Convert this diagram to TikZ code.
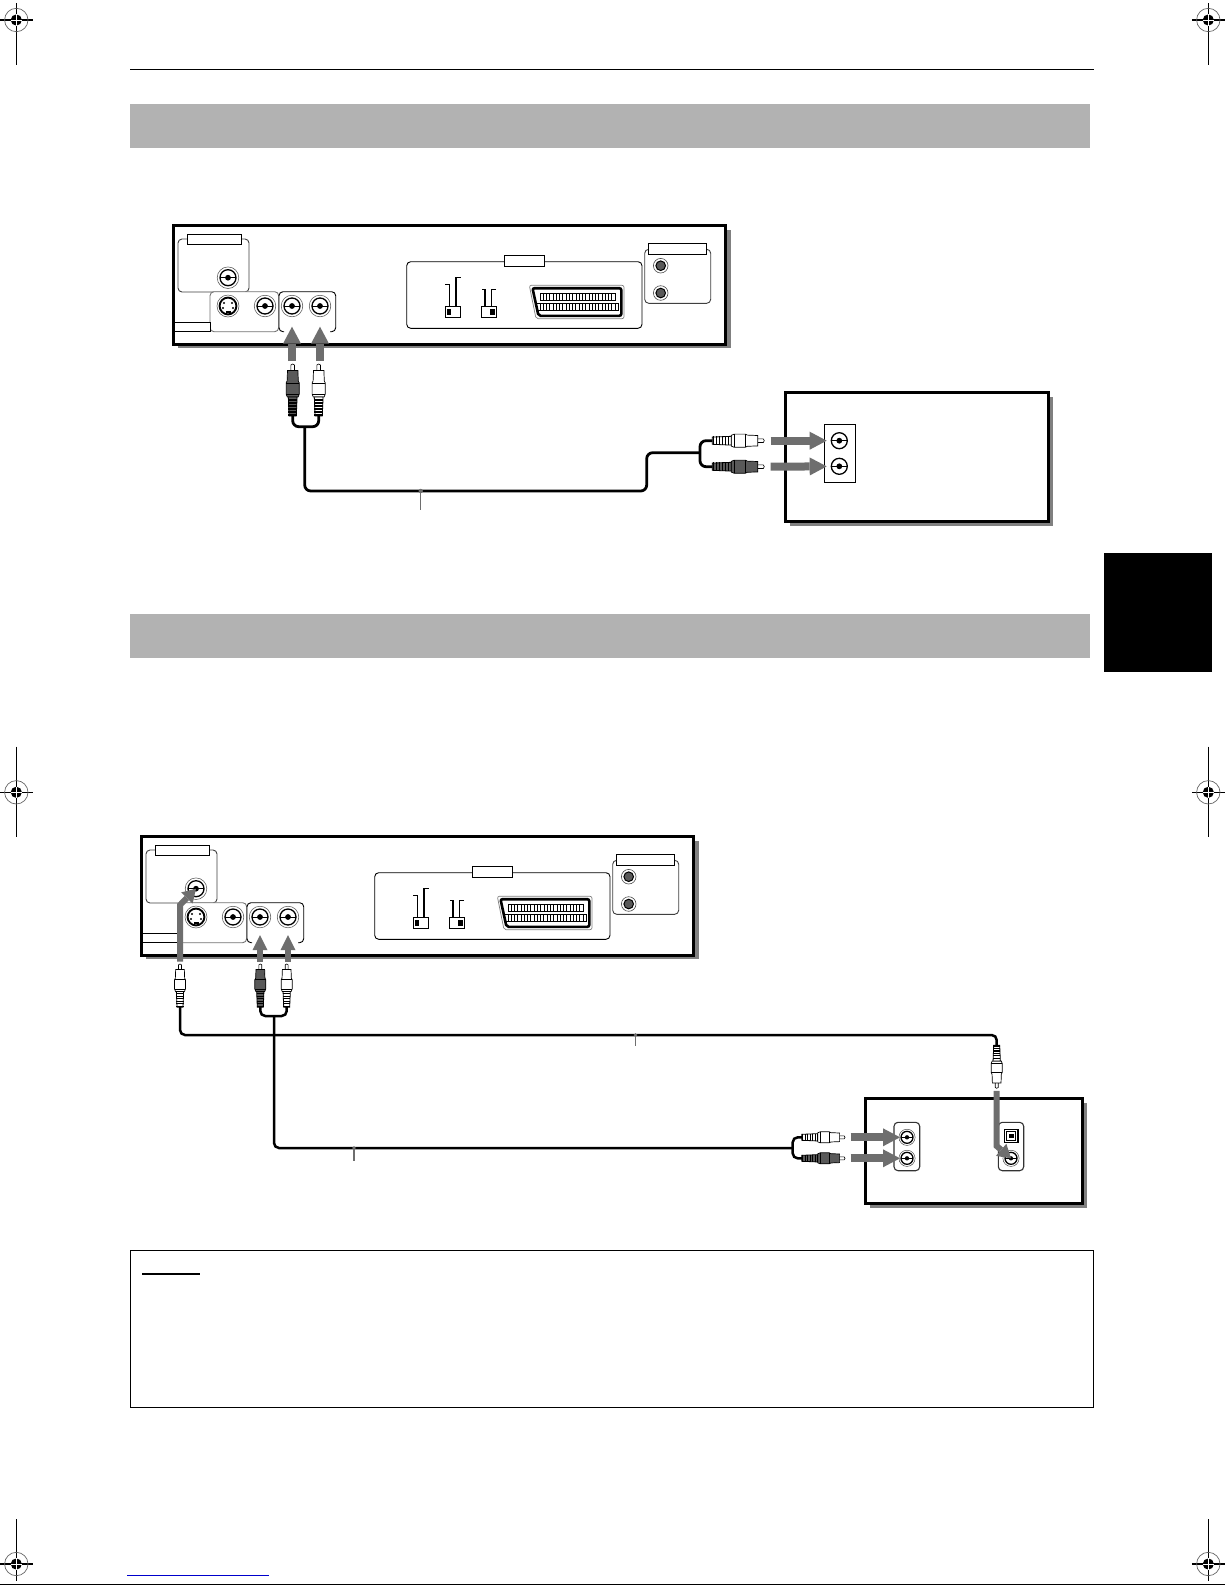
\documentclass[tikz,border=0pt]{standalone}
\usepackage{amsmath}
\usepackage{amssymb}
\usetikzlibrary{arrows.meta}

\definecolor{bargray}{HTML}{B2B2B2}
\definecolor{feedgray}{HTML}{6E6E6E}
\definecolor{shadegray}{HTML}{808080}

\tikzset{
    chassis/.style={draw=black, line width=3pt, fill=white},
    shade box/.style={fill=shadegray},
    panel/.style={draw=black!75, line width=.9pt, rounded corners=4pt, fill=white},
    tag/.style={draw=black, line width=.9pt, fill=white},
    cable/.style={draw=black, line width=2.8pt, rounded corners=6pt},
    thin cable/.style={draw=black, line width=2.5pt, rounded corners=5pt},
    leader/.style={draw=feedgray, line width=1.2pt},
    feed/.style={draw=feedgray, line width=8pt, -{Triangle[length=17pt,width=18pt,line width=0pt]}},
    small feed/.style={draw=feedgray, line width=5.5pt, -{Triangle[length=15pt,width=15pt,line width=0pt]}},
    bent feed/.style={draw=feedgray, line width=6pt, -{Triangle[length=13pt,width=16pt,line width=0pt]}},
    % RCA jack, with or without its outer ring
    pics/jack/.style={code={
        \draw[draw=black!70, line width=.5pt, fill=white] (0,0) circle (#1*1.35);
        \draw[line width=1.3pt, fill=white] (0,0) circle (#1);
        \draw[line width=.9pt] (-#1,0) -- (#1,0);
        \fill (0,0) circle (#1*.36);
    }},
    pics/bare jack/.style={code={
        \draw[line width=1.3pt, fill=white] (0,0) circle (8);
        \draw[line width=.9pt] (-8,0) -- (8,0);
        \fill (0,0) circle (2.9);
    }},
    pics/svideo/.style={code={
        \draw[draw=black!70, line width=.5pt, fill=white] (0,0) circle (11);
        \draw[line width=1.9pt, fill=white] (0,0) circle (8.4);
        \foreach \dx/\dy in {-4/-3, 4/-3, -5/2, 5/2} {
            \fill (\dx,\dy) circle (1.1);
        }
        \fill (-2.5,4.5) rectangle (2.5,6.8);
    }},
    pics/audio jack/.style={code={
        \draw[draw=black!70, line width=.6pt, fill=white] (0,0) circle (7.3);
        \draw[line width=1pt, fill=black!65] (0,0) circle (4.8);
    }},
    % RCA plug, pin at the origin, lead going down
    pics/rcaplug/.style={code={
        \coordinate (-pin) at (0,-3);
        \coordinate (-tail) at (0,52);
        \draw[line width=.6pt, fill=white] (-1.8,7) -- (-1.8,1) -- (0,0) -- (1.8,1) -- (1.8,7) -- cycle;
        \draw[line width=.7pt, fill=#1] (-5.2,6.5) -- (5.2,6.5) -- (5.6,17) -- (6.6,19) -- (6.6,30) -- (5.4,33) -- (-5.4,33) -- (-6.6,30) -- (-6.6,19) -- (-5.6,17) -- cycle;
        \draw[line width=.6pt] (-6.6,19) -- (6.6,19) (-6.6,30) -- (6.6,30);
        \draw[line width=.8pt, fill=#1] (-4.4,33) -- (4.4,33) -- (3.6,52) -- (-3.6,52) -- cycle;
        \foreach \sy in {36,39,...,51} {
            \draw[line width=1.1pt] (-4.3,\sy) -- (4.3,\sy);
        }
    }},
    % rear panel of the player
    pics/rearpanel/.style={code={
        \coordinate (-coax) at (55,52.7);
        \coordinate (-video) at (92,81);
        \coordinate (-audioL) at (119,81);
        \coordinate (-audioR) at (147,81);
        \fill[shade box] (4.5,4.5) rectangle (557.5,123.3);
        \draw[chassis] (.6,.5) rectangle (552.4,119.3);
        \draw[panel] (5,14) rectangle (76,67);
        \draw[tag] (14.3,9.3) rectangle (68.7,19.3);
        \draw[panel, draw=black!55] (37,66.7) rectangle (105.7,106.7);
        \draw[tag] (1.3,97.3) rectangle (37,106.7);
        \draw[panel, draw=black] (111,106.7) -- (106,106.7) -- (106,66.7) -- (162.7,66.7) -- (162.7,106.7) -- (157,106.7);
        \pic at (-coax) {jack=8};
        \pic at (55,81) {svideo};
        \pic at (-video) {jack=8};
        \pic at (-audioL) {jack=8};
        \pic at (-audioR) {jack=8};
        % scart block
        \draw[panel, draw=black] (233.7,36.7) rectangle (469,103.3);
        \draw[tag] (331.3,30.3) rectangle (371.7,41.7);
        \draw[tag] (272.3,81.7) rectangle (287.7,92.7);
        \fill (274,84) rectangle (278,90);
        \draw[line width=1.1pt] (272,59.3) -- (276.3,59.3) -- (276.3,81.7);
        \draw[line width=1.1pt] (287.5,52.7) -- (283,52.7) -- (283,81.7);
        \draw[tag] (308.3,81.7) rectangle (323.7,92.7);
        \fill (317,84) rectangle (322,90);
        \draw[line width=1.1pt] (309,64.3) -- (312,64.3) -- (312,81.7);
        \draw[line width=1.1pt] (323,64.3) -- (318.7,64.3) -- (318.7,81.7);
        \draw[draw=black!50, line width=.7pt, fill=white, rounded corners=2pt] (356.3,60.3) -- (451,60.3) -- (451,93.7) -- (363,93.7) -- cycle;
        \draw[line width=2.6pt, fill=white, rounded corners=2pt] (359.5,63.2) -- (448.3,63.2) -- (448.3,90.8) -- (365.5,90.8) -- cycle;
        \draw[line width=1pt] (367,68.3) rectangle (442,75.7);
        \draw[line width=1pt] (363.7,78.3) rectangle (445.3,85.7);
        \foreach \pinx in {0,...,22} {
            \draw[line width=.9pt] (367+\pinx*3.27,68.3) -- ++(0,7.4);
        }
        \foreach \pinx in {0,...,24} {
            \draw[line width=.9pt] (363.7+\pinx*3.27,78.3) -- ++(0,7.4);
        }
        % audio out block
        \draw[panel] (471.7,24.3) rectangle (537.7,78.3);
        \draw[tag] (475.3,18.3) rectangle (533.7,29.3);
        \pic at (487.7,40.7) {audio jack};
        \pic at (487.7,68) {audio jack};
    }},
    % crop mark
    pics/regmark/.style 2 args={code={
        \draw[line width=1.1pt] (0,#1) -- (0,#2);
        \draw[line width=1.1pt] (-16.5,0) -- (16.5,0);
        \draw[draw=black!60, line width=.7pt] (0,0) circle (11.7);
        \fill (0,0) circle (5.6);
        \draw[white, line width=.8pt] (-5.6,0) -- (5.6,0) (0,-5.6) -- (0,5.6);
    }}
}

\begin{document}
\begin{tikzpicture}[x=1pt, y=-1pt]
        \useasboundingbox (0,0) rectangle (1225,1585);

        % Page furniture
        \pic (markTL) at (16.3,20) {regmark={-16.7}{45}};
        \pic (markTR) at (1208.3,20) {regmark={-16.7}{45}};
        \pic (markML) at (16.3,792.3) {regmark={-45.6}{44.4}};
        \pic (markMR) at (1208.3,792.3) {regmark={-45.6}{44.4}};
        \pic (markBL) at (16.3,1564) {regmark={-45}{16.7}};
        \pic (markBR) at (1208.3,1564) {regmark={-45}{16.7}};
        \draw[line width=1.2pt] (130,69.6) -- (1093.7,69.6);
        \fill[bargray] (130,104) rectangle (1090,148);
        \fill[bargray] (130,614) rectangle (1090,658);
        \fill[black] (1104,553.3) rectangle (1212,672);
        \draw[line width=.9pt] (130.4,1250.6) rectangle (1093.4,1407.6);
        \draw[line width=1.2pt] (142,1274) -- (200,1274);
        \draw[blue!80!black, line width=1pt] (127,1575.3) -- (268.7,1575.3);
        \draw[line width=1.2pt] (0,1584.3) -- (1225,1584.3);

        % First hookup
        \pic (devA) at (173,225) {rearpanel};
        \fill[shade box] (789.5,396.8) rectangle (1052.7,525.7);
        \draw[chassis] (785,392.3) rectangle (1048.4,521.2);
        \draw[tag] (824.3,424.3) rectangle (855.7,482.3);
        \coordinate (ampAl) at (839.3,440.7);
        \coordinate (ampAr) at (839.3,466.3);
        \pic at (ampAl) {bare jack};
        \pic at (ampAr) {bare jack};

        \pic (plugA) at (292.7,364) {rcaplug={black!65}};
        \pic (plugB) at (318.7,364) {rcaplug=white};
        \pic[rotate=-90] (plugC) at (764.3,440.7) {rcaplug=white};
        \pic[rotate=-90] (plugD) at (764.3,466.7) {rcaplug={black!65}};

        \draw[feed, shorten >=20.7pt] (devA-audioL |- plugA-pin) -- (devA-audioL);
        \draw[feed, shorten >=20.7pt] (devA-audioR |- plugB-pin) -- (devA-audioR);
        \draw[feed, shorten <=3.4pt, shorten >=12.6pt] (plugC-pin) -- (ampAl);
        \draw[feed, shorten <=3.4pt, shorten >=12.6pt] (plugD-pin) -- (ampAr);

        \coordinate (forkA) at (304.7,426.7);
        \coordinate (forkB) at (700,452.7);
        \coordinate (cornerA) at (646.7,491);
        \coordinate (leadA) at (420.7,491);
        \draw[cable] (plugA-tail) |- (forkA) -| (plugB-tail);
        \draw[cable] (forkA) |- (cornerA) |- (forkB);
        \draw[cable] (plugC-tail) -| (forkB) |- (plugD-tail);
        \draw[leader] (leadA) -- ++(0,19);
        \fill[feedgray] (leadA) circle (2.2);

        % Second hookup
        \pic (devB) at (141,836) {rearpanel};
        \fill[shade box] (869.5,1102.8) rectangle (1086.7,1208);
        \draw[chassis] (865,1098.3) rectangle (1082.4,1203.6);
        \draw[panel, draw=black!80, line width=1.1pt] (894,1122.3) rectangle (919.7,1170.7);
        \draw[panel, draw=black!80, line width=1.1pt] (998.3,1122.3) rectangle (1023.7,1170.7);
        \coordinate (ampBl) at (907,1137.3);
        \coordinate (ampBr) at (907,1158.3);
        \coordinate (ampBc) at (1011,1158.3);
        \pic at (ampBl) {jack=6};
        \pic at (ampBr) {jack=6};
        \pic at (ampBc) {jack=6};
        \draw[line width=1.1pt, fill=white] (1004.3,1129.3) rectangle (1018,1142.7);
        \draw[line width=.7pt] (1006.6,1131.6) rectangle (1015.7,1140.4);
        \fill (1008.8,1133.8) rectangle (1013.5,1138.2);

        \pic[scale=.83] (plugE) at (180,964) {rcaplug=white};
        \pic[scale=.83] (plugF) at (260.3,964) {rcaplug={black!65}};
        \pic[scale=.83] (plugG) at (286.7,964) {rcaplug=white};
        \pic[rotate=180, scale=.83] (plugH) at (996.7,1088.3) {rcaplug=white};
        \pic[rotate=-90, scale=.83] (plugJ) at (845,1137.3) {rcaplug=white};
        \pic[rotate=-90, scale=.83] (plugK) at (845,1158.3) {rcaplug={black!65}};

        \coordinate (bendA) at (180,905);
        \coordinate (bendB) at (996.7,1146);
        \draw[bent feed] (plugE-pin) -- (bendA) -- (devB-coax);
        \draw[bent feed] (plugH-pin) -- (bendB) -- (ampBc);
        \draw[small feed, shorten >=18pt] (devB-audioL |- plugF-pin) -- (devB-audioL);
        \draw[small feed, shorten >=18pt] (devB-audioR |- plugG-pin) -- (devB-audioR);
        \draw[feed, shorten <=3pt, shorten >=7pt] (plugJ-pin) -- (ampBl);
        \draw[feed, shorten <=3pt, shorten >=7pt] (plugK-pin) -- (ampBr);

        \coordinate (forkC) at (274,1016);
        \coordinate (forkD) at (792.7,1148);
        \coordinate (coaxRun) at (640,1035);
        \draw[thin cable] (plugE-tail) |- (coaxRun) -| (plugH-tail);
        \draw[thin cable] (plugF-tail) |- (forkC) -| (plugG-tail);
        \draw[thin cable] (forkC) |- (forkD);
        \draw[thin cable] (plugJ-tail) -| (forkD) |- (plugK-tail);
        \coordinate (leadB) at (635.5,1035);
        \coordinate (leadC) at (354,1148);
        \draw[leader] (leadB) -- ++(0,11);
        \draw[leader] (leadC) -- ++(0,13);
        \fill[feedgray] (leadB) circle (1.8);
        \fill[feedgray] (leadC) circle (1.8);
\end{tikzpicture}
\end{document}
